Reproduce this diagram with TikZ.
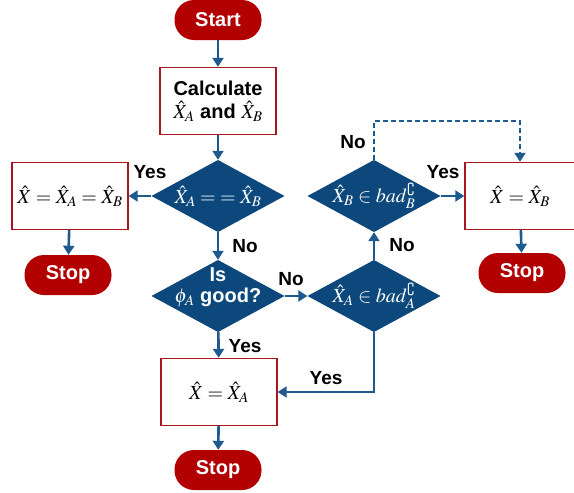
\documentclass[tikz,border=0pt]{standalone}
\usepackage{amssymb}
\usepackage{mathptmx}
\usepackage[no-math]{fontspec}
\setmainfont{Liberation Sans}
\usetikzlibrary{arrows.meta}

\definecolor{stopred}{RGB}{178,0,0}
\definecolor{boxred}{RGB}{168,22,32}
\definecolor{testblue}{RGB}{12,72,124}
\definecolor{linkblue}{RGB}{30,90,142}

\begin{document}
\begin{tikzpicture}[x=1pt,y=-1pt,
    terminal/.style={rectangle,rounded corners=19.5pt,fill=stopred,text=white,
      minimum width=87pt,minimum height=40pt,inner sep=0pt,
      font=\bfseries\fontsize{20}{23}\selectfont},
    proc/.style={rectangle,draw=boxred,line width=1.4pt,fill=white,
      minimum width=116pt,minimum height=67pt,inner sep=2pt,
      font=\fontsize{20}{23}\selectfont},
    test/.style={rectangle,minimum width=133pt,minimum height=72pt,inner sep=0pt,
      text=white,font=\fontsize{20}{23}\selectfont,
      path picture={\fill[testblue] (path picture bounding box.north)
        -- (path picture bounding box.east) -- (path picture bounding box.south)
        -- (path picture bounding box.west) -- cycle;}},
    link/.style={draw=linkblue,line width=2.6pt,-{Triangle[length=9pt,width=11pt]}},
    tag/.style={inner sep=0pt,font=\bfseries\fontsize{19}{22}\selectfont}
    ]

    \useasboundingbox (0,0) rectangle (574,493);

    % main column
    \node (start) [terminal] at (218,20) {Start};
    \node (calc) [proc,align=center,font=\bfseries\fontsize{20}{23}\selectfont]
      at (218,101) {Calculate\\$\hat{X}_A$ and $\hat{X}_B$};
    \node (same) [test] at (218,196) {$\hat{X}_A =\;= \hat{X}_B$};
    % extra depth lifts the two lines above the middle
    \node (good) [test,align=center,text depth=22pt,
      font=\bfseries\fontsize{20}{21}\selectfont]
      at (218,296) {Is\\$\phi_A$ good?};
    \node (onlya) [proc] at (219,392) {$\hat{X} = \hat{X}_A$};
    \node (stopb) [terminal] at (218,470) {Stop};

    % left branch
    \node (both) [proc] at (70,196) {$\hat{X} = \hat{X}_A = \hat{X}_B$};
    \node (stopl) [terminal] at (68,275) {Stop};

    % right branch
    \node (bada) [test] at (374,296) {$\hat{X}_A \in bad_A^{\complement}$};
    \node (badb) [test] at (374,196) {$\hat{X}_B \in bad_B^{\complement}$};
    \node (onlyb) [proc,minimum width=110pt] at (520,196) {$\hat{X} = \hat{X}_B$};
    \node (stopr) [terminal] at (522,273) {Stop};

    \coordinate (hop) at (448,121);

    \draw [link] (start) -- (calc);
    \draw [link] (calc) -- (same);
    \draw [link] (same) -- (both);
    \draw [link] (both) -- (stopl);
    \draw [link] (same) -- (good);
    \draw [link] (good) -- (bada);
    \draw [link] (good) -- (onlya);
    \draw [link] (bada) |- (onlya);
    \draw [link] (onlya) -- (stopb);
    \draw [link] (bada) -- (badb);
    \draw [link] (badb) -- (onlyb);
    \draw [link] (onlyb) -- (stopr);
    \draw [link,line width=2pt,dash pattern=on 5pt off 3pt] (badb) |- (hop) -| (onlyb);

    % branch labels
    \node (yes1) [tag] at (150,172) {Yes};
    \node (no1) [tag] at (245,246) {No};
    \node (no2) [tag] at (291,279) {No};
    \node (yes2) [tag] at (245,346) {Yes};
    \node (yes3) [tag] at (326,378) {Yes};
    \node (no3) [tag] at (402,245) {No};
    \node (yes4) [tag] at (443,172) {Yes};
    \node (no4) [tag] at (353,142) {No};

  \end{tikzpicture}
\end{document}
